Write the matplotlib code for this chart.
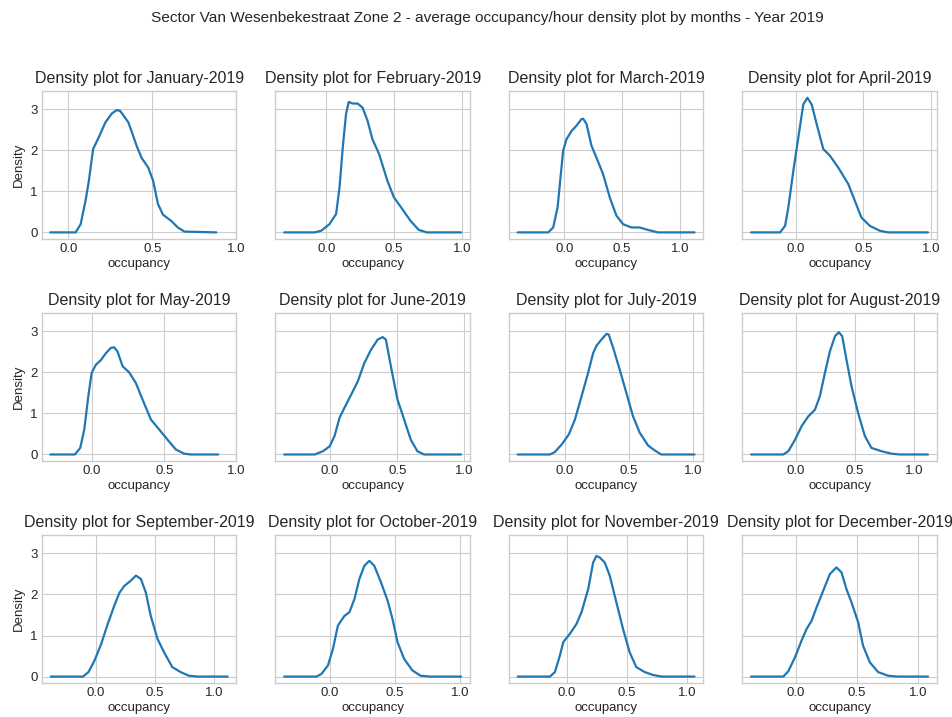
import numpy as np
import matplotlib
matplotlib.use('Agg')
import matplotlib.pyplot as plt

plt.style.use('seaborn-v0_8-whitegrid')
plt.rcParams['font.family'] = ['Liberation Sans', 'DejaVu Sans']

# KDE curves of average occupancy/hour, one per month (x = occupancy, y = density)
months = ['January', 'February', 'March', 'April', 'May', 'June',
          'July', 'August', 'September', 'October', 'November', 'December']

jan_x = [-0.108, 0.043, 0.073, 0.102, 0.122, 0.147, 0.18, 0.22, 0.259, 0.288, 0.308, 0.357,
         0.406, 0.435, 0.475, 0.504, 0.533, 0.563, 0.612, 0.651, 0.69, 0.88]
jan_y = [0, 0, 0.2, 0.77, 1.26, 2.03, 2.31, 2.68, 2.9, 2.98, 2.96, 2.68,
         2.11, 1.82, 1.58, 1.26, 0.69, 0.43, 0.28, 0.12, 0.02, 0]

feb_x = [-0.31, -0.085, -0.037, 0.024, 0.073, 0.098, 0.122, 0.146, 0.166, 0.195, 0.232, 0.268,
         0.305, 0.341, 0.39, 0.451, 0.5, 0.561, 0.622, 0.683, 0.744, 0.995]
feb_y = [0, 0, 0.04, 0.2, 0.45, 1.09, 2.07, 2.88, 3.18, 3.14, 3.14, 3.04,
         2.72, 2.27, 1.91, 1.26, 0.85, 0.57, 0.28, 0.06, 0, 0]

mar_x = [-0.402, -0.138, -0.095, -0.057, -0.029, -0.009, 0.02, 0.063, 0.106, 0.149, 0.164, 0.193,
         0.236, 0.279, 0.336, 0.394, 0.451, 0.509, 0.58, 0.652, 0.724, 0.81, 1.126]
mar_y = [0, 0, 0.12, 0.61, 1.42, 1.99, 2.27, 2.47, 2.6, 2.76, 2.77, 2.64,
         2.11, 1.82, 1.42, 0.85, 0.41, 0.2, 0.12, 0.12, 0.06, 0, 0]

apr_x = [-0.333, -0.118, -0.081, -0.057, -0.02, 0.017, 0.054, 0.084, 0.116, 0.153, 0.202, 0.251,
         0.313, 0.387, 0.436, 0.485, 0.547, 0.621, 0.682, 0.978]
apr_y = [0, 0, 0.16, 0.61, 1.5, 2.31, 3.12, 3.28, 3.12, 2.64, 2.03, 1.87,
         1.58, 1.18, 0.77, 0.36, 0.16, 0.04, 0, 0]

may_x = [-0.288, -0.118, -0.081, -0.053, -0.025, -0.002, 0.028, 0.062, 0.097, 0.131, 0.154, 0.177,
         0.212, 0.258, 0.304, 0.35, 0.408, 0.465, 0.523, 0.581, 0.638, 0.684, 0.873]
may_y = [0, 0, 0.16, 0.61, 1.42, 1.99, 2.19, 2.3, 2.47, 2.6, 2.61, 2.51,
         2.15, 2.0, 1.74, 1.34, 0.85, 0.61, 0.36, 0.12, 0.02, 0, 0]

jun_x = [-0.34, -0.113, -0.052, -0.002, 0.034, 0.071, 0.108, 0.158, 0.207, 0.256, 0.305, 0.355,
         0.392, 0.416, 0.453, 0.502, 0.552, 0.601, 0.65, 0.7, 0.975]
jun_y = [0, 0, 0.08, 0.2, 0.45, 0.89, 1.14, 1.46, 1.78, 2.23, 2.55, 2.8,
         2.86, 2.8, 2.15, 1.34, 0.85, 0.36, 0.08, 0, 0]

jul_x = [-0.368, -0.117, -0.078, -0.026, 0.031, 0.078, 0.13, 0.181, 0.22, 0.246, 0.285, 0.324,
         0.342, 0.376, 0.427, 0.479, 0.531, 0.583, 0.648, 0.699, 0.751, 1.01]
jul_y = [0, 0, 0.06, 0.24, 0.49, 0.85, 1.42, 1.99, 2.47, 2.65, 2.8, 2.94,
         2.92, 2.6, 2.07, 1.5, 0.93, 0.53, 0.22, 0.1, 0, 0]

aug_x = [-0.381, -0.107, -0.065, -0.008, 0.048, 0.105, 0.161, 0.203, 0.246, 0.288, 0.331, 0.364,
         0.393, 0.429, 0.472, 0.528, 0.585, 0.641, 0.726, 0.811, 0.881, 1.121]
aug_y = [0, 0, 0.08, 0.36, 0.69, 0.93, 1.09, 1.42, 1.99, 2.51, 2.88, 2.98,
         2.88, 2.31, 1.66, 1.01, 0.45, 0.16, 0.08, 0.02, 0, 0]

sep_x = [-0.385, -0.112, -0.065, -0.014, 0.042, 0.098, 0.154, 0.197, 0.239, 0.295, 0.337, 0.379,
         0.421, 0.463, 0.52, 0.576, 0.646, 0.716, 0.787, 0.857, 1.115]
sep_y = [0, 0, 0.11, 0.39, 0.79, 1.28, 1.73, 2.04, 2.21, 2.34, 2.46, 2.38,
         2.05, 1.48, 0.92, 0.59, 0.23, 0.11, 0.02, 0, 0]

oct_x = [-0.35, -0.104, -0.066, -0.015, 0.023, 0.061, 0.086, 0.112, 0.15, 0.188, 0.226, 0.264,
         0.302, 0.34, 0.391, 0.442, 0.48, 0.518, 0.569, 0.632, 0.695, 0.772, 1.005]
oct_y = [0, 0, 0.06, 0.27, 0.67, 1.24, 1.36, 1.48, 1.57, 1.89, 2.38, 2.7,
         2.82, 2.7, 2.3, 1.85, 1.4, 0.84, 0.43, 0.15, 0.02, 0, 0]

nov_x = [-0.404, -0.137, -0.096, -0.055, -0.027, 0.027, 0.082, 0.124, 0.179, 0.22, 0.247, 0.275,
         0.316, 0.357, 0.412, 0.467, 0.522, 0.577, 0.646, 0.714, 0.783, 1.058]
nov_y = [0, 0, 0.11, 0.51, 0.84, 1.04, 1.28, 1.57, 2.13, 2.78, 2.94, 2.9,
         2.78, 2.46, 1.81, 1.16, 0.59, 0.23, 0.11, 0.04, 0, 0]

dec_x = [-0.368, -0.104, -0.063, -0.008, 0.046, 0.087, 0.128, 0.169, 0.223, 0.278, 0.332, 0.373,
         0.414, 0.455, 0.51, 0.55, 0.605, 0.673, 0.755, 0.837, 1.082]
dec_y = [0, 0, 0.13, 0.47, 0.88, 1.16, 1.36, 1.69, 2.09, 2.5, 2.66, 2.54,
         2.13, 1.81, 1.32, 0.75, 0.35, 0.11, 0.02, 0, 0]

curves = [(jan_x, jan_y), (feb_x, feb_y), (mar_x, mar_y), (apr_x, apr_y),
          (may_x, may_y), (jun_x, jun_y), (jul_x, jul_y), (aug_x, aug_y),
          (sep_x, sep_y), (oct_x, oct_y), (nov_x, nov_y), (dec_x, dec_y)]

fig, axes = plt.subplots(3, 4, figsize=(9.53, 7.17), dpi=100, sharey=True)
fig.subplots_adjust(left=0.044, right=0.983, top=0.873, bottom=0.047,
                    wspace=0.2, hspace=0.5)

for i, ax in enumerate(axes.flat):
    xs, ys = curves[i]
    ax.plot(xs, ys, color='#1f77b4', lw=1.6, solid_joinstyle='round')
    ax.set_title('Density plot for %s-2019' % months[i], fontsize=11.5, color='0.15')
    ax.set_xlabel('occupancy', fontsize=9.5, color='0.15', labelpad=2)
    ax.set_xticks([0.0, 0.5, 1.0])
    ax.set_yticks([0, 1, 2, 3])
    ax.tick_params(labelsize=9.5, colors='0.15', pad=3)
    if i % 4 == 0:
        ax.set_ylabel('Density', fontsize=9.5, color='0.15', labelpad=4)
    for s in ax.spines.values():
        s.set_edgecolor('0.8')

fig.suptitle('Sector Van Wesenbekestraat Zone 2 - average occupancy/hour density plot by months - Year 2019',
             x=0.511, y=0.984, fontsize=11.1, color='0.15')

plt.savefig('out.png', dpi=100)
